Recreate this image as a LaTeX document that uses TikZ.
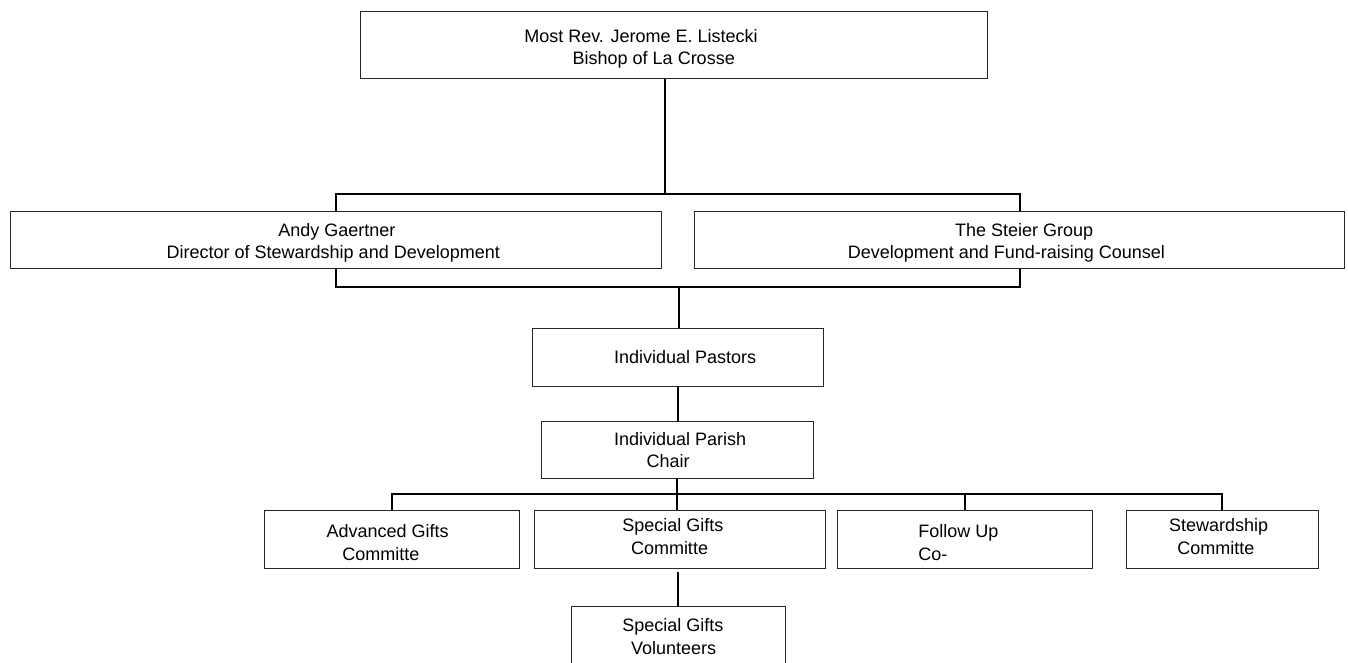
\documentclass[tikz,border=0pt]{standalone}
\usepackage{fontspec}
\setmainfont{Liberation Sans}
\usetikzlibrary{backgrounds}
\begin{document}
\begin{tikzpicture}[x=1pt,y=-1pt,
  box/.style={draw=black!85, line width=1pt, fill=white, anchor=north west,
              inner sep=0pt, outer sep=0pt},
  conn/.style={draw=black, line width=2pt},
  txt/.style={anchor=base west, inner sep=0pt, outer sep=0pt,
              font=\fontsize{18}{22}\selectfont},
  txtr/.style={txt, anchor=base east}]
\useasboundingbox (0,0) rectangle (1348,662);
\clip (0,0) rectangle (1348,662);

% boxes
\node[box, minimum width=627pt, minimum height=67pt] (top)     at (360,11)  {};
\node[box, minimum width=651pt, minimum height=57pt] (andy)    at (10,211)  {};
\node[box, minimum width=650pt, minimum height=57pt] (steier)  at (694,211) {};
\node[box, minimum width=291pt, minimum height=58pt] (pastors) at (532,328) {};
\node[box, minimum width=272pt, minimum height=57pt] (parish)  at (541,421) {};
\node[box, minimum width=255pt, minimum height=58pt] (adv)     at (264,510) {};
\node[box, minimum width=291pt, minimum height=58pt] (sgc)     at (534,510) {};
\node[box, minimum width=255pt, minimum height=58pt] (fu)      at (837,510) {};
\node[box, minimum width=192pt, minimum height=58pt] (stew)    at (1126,510) {};
\node[box, minimum width=214pt, minimum height=80pt] (vol)     at (571,606) {};

% junction points of the connectors
\coordinate (jt)  at (665,194);
\coordinate (bl)  at (336,194);
\coordinate (br)  at (1020,194);
\coordinate (bbl) at (336,287);
\coordinate (bbr) at (1020,287);
\coordinate (jb)  at (679,287);
\coordinate (bus) at (678,494);
\coordinate (sv)  at (678,572);

\begin{pgfonlayer}{background}
  \draw[conn] (top.south -| jt) -- (jt);
  \draw[conn] (bl) -- (br) -- (bbr) -- (bbl) -- cycle;
  \draw[conn] (jb) -- (jb |- pastors.north);
  \draw[conn] (pastors.south) -- (pastors.south |- parish.north);
  \draw[conn] (parish.south) -- (parish.south |- sgc.north);
  \draw[conn] (adv.north) -- (adv.north |- bus) -- (stew.north |- bus) -- (stew.north);
  \draw[conn] (fu.north) -- (fu.north |- bus);
  \draw[conn] (sv) -- (sv |- vol.north);
\end{pgfonlayer}

% texts
\node[txt] (t1a) at (524.3,42.3) {Most Rev. Jerome E. Listecki};
\node[txt] (t1b) at (572.7,64)   {Bishop of La Crosse};
\node[txt] (t2a) at (278.3,236)  {Andy Gaertner};
\node[txt] (t2b) at (166.7,258)  {Director of Stewardship and Development};
\node[txt] (t3a) at (955,236)    {The Steier Group};
\node[txtr] (t3b) at (1165,258)  {Development and Fund-raising Counsel};
\node[txt] (t4)  at (614,363.3)  {Individual Pastors};
\node[txt] (t5a) at (614,445.7)  {Individual Parish};
\node[txt] (t5b) at (646.7,467.3) {Chair};
\node[txt] (t6a) at (326.7,537.3) {Advanced Gifts};
\node[txt] (t6b) at (342.3,560)  {Committe};
\node[txt] (t7a) at (622.3,531.7) {Special Gifts};
\node[txt] (t7b) at (631,554)    {Committe};
\node[txt] (t8a) at (918.3,537.3) {Follow Up};
\node[txt] (t8b) at (918.3,560)  {Co-};
\node[txt] (t9a) at (1169,531.7) {Stewardship};
\node[txt] (t9b) at (1177.3,554) {Committe};
\node[txt] (t10a) at (622.3,631.7) {Special Gifts};
\node[txt] (t10b) at (631,654)   {Volunteers};
\end{tikzpicture}
\end{document}
